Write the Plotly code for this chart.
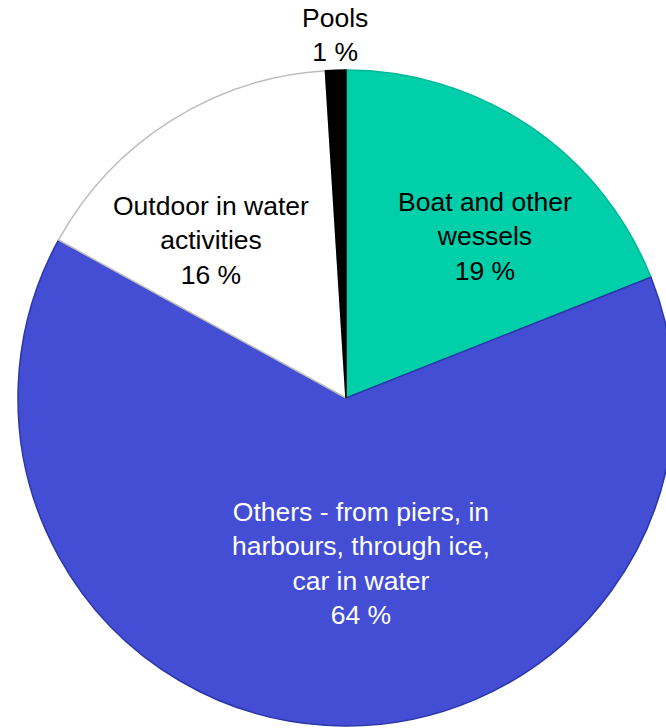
import plotly.graph_objects as go

labels = ["Boat and other<br>wessels", "Others - from piers, in<br>harbours, through ice,<br>car in water",
          "Outdoor in water<br>activities", "Pools"]
values = [19, 64, 16, 1]
colors = ["#00CFAA", "#434ED5", "#FFFFFF", "#000000"]
line_colors = ["#00B894", "#2B37A8", "#BDBDBD", "#000000"]
text_colors = ["#000000", "#FFFFFF", "#000000", "#000000"]
# label centres in pixels (x, y) of the 666x728 page
label_pos = [(485, 236), (361, 563), (211, 240), (335, 35)]

FONT = "Liberation Sans, Arial"
W, H = 684, 728
ML, MR, MT, MB = 18, 10, 70, 2
DW = W - ML - MR
DH = H - MT - MB

fig = go.Figure(go.Pie(
    labels=labels, values=values, textinfo="none",
    sort=False, direction="clockwise", rotation=0,
    marker=dict(colors=colors, line=dict(color=line_colors, width=1.5)),
    hoverinfo="label+percent", showlegend=False,
))

for lab, val, col, (px, py) in zip(labels, values, text_colors, label_pos):
    fig.add_annotation(
        text=f"{lab}<br>{val} %", showarrow=False,
        x=(px - ML) / DW, y=(H - MB - py) / DH, xref="paper", yref="paper",
        xanchor="center", yanchor="middle", align="center",
        font=dict(family=FONT, size=26.5, color=col),
    )

fig.update_layout(
    width=W, height=H, margin=dict(l=ML, r=MR, t=MT, b=MB),
    paper_bgcolor="white", plot_bgcolor="white",
)

fig.write_html("out.html", config={"displayModeBar": False},
               post_script="document.body.style.overflow='hidden';document.body.style.margin='0';")
